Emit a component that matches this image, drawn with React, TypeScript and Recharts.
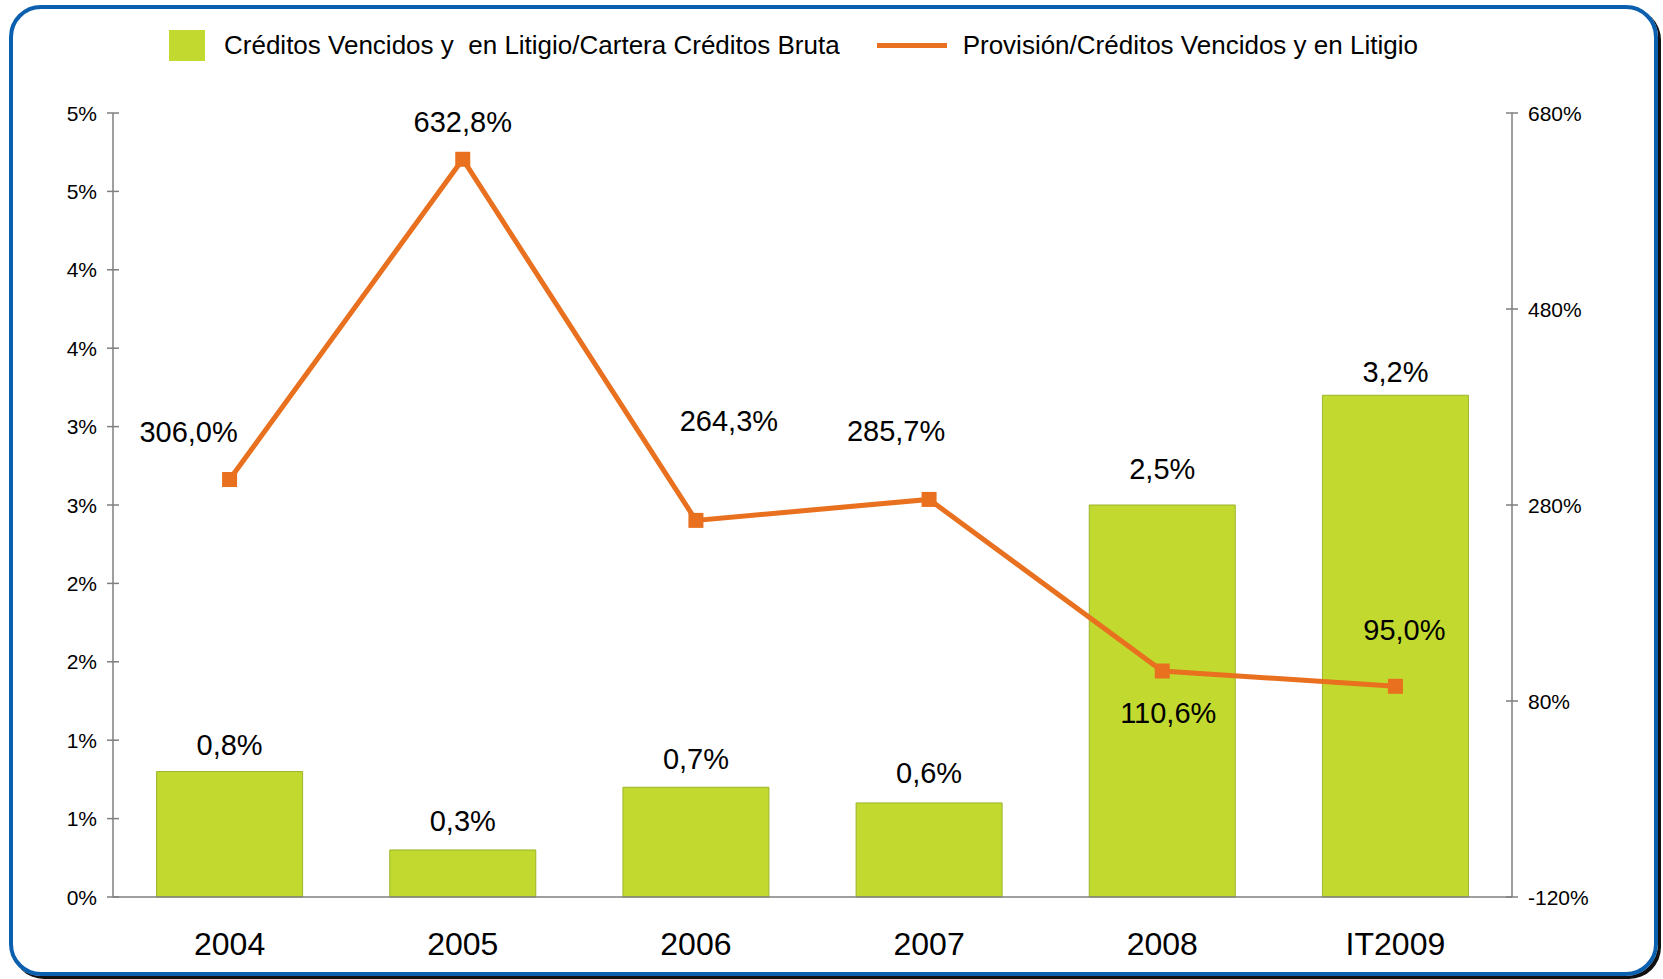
import React from 'react';
import { ComposedChart, Bar, Line, XAxis, YAxis, LabelList } from 'recharts';

// chart values
const categories = ['2004', '2005', '2006', '2007', '2008', 'IT2009'];
const vencidosCartera = [0.8, 0.3, 0.7, 0.6, 2.5, 3.2];
const provisionVencidos = [306.0, 632.8, 264.3, 285.7, 110.6, 95.0];
const leftTicks = [0, 0.5, 1, 1.5, 2, 2.5, 3, 3.5, 4, 4.5, 5];
const rightTicks = [-120, 80, 280, 480, 680];

const barName = 'Créditos Vencidos y  en Litigio/Cartera Créditos Bruta';
const lineName = 'Provisión/Créditos Vencidos y en Litigio';

const GREEN = '#C2D92F';
const GREEN_EDGE = '#9BB52A';
const ORANGE = '#E8701F';
const AXIS = '#7f7f7f';
const FONT = '"Liberation Sans", Arial, sans-serif';

// Excel-style hand placed label offsets for the line series (dx, dy from the point)
const lineLabelShift = [
  [-41, -48],
  [0, -37],
  [33, -99],
  [-33, -68],
  [6, 42],
  [9, -56],
];
// distance from bar top to the centre of its label
const barLabelGap = [27, 29, 28, 30, 36, 23];

const data = categories.map((c, i) => ({
  name: c,
  cartera: vencidosCartera[i],
  provision: provisionVencidos[i],
}));

const fmt = (v: number) => v.toFixed(1).replace('.', ',') + '%';

const LeftTick = (props: any) => {
  const { x, y, payload } = props;
  return (
    <g>
      <line x1={x + 16} x2={x + 22} y1={y} y2={y} stroke={AXIS} strokeWidth={1.5} />
      <text x={x} y={y} textAnchor="end" dominantBaseline="central" fontSize={21} fill="#000" fontFamily={FONT}>
        {Math.round(payload.value) + '%'}
      </text>
    </g>
  );
};

const RightTick = (props: any) => {
  const { x, y, payload } = props;
  return (
    <g>
      <line x1={x - 22} x2={x - 16} y1={y} y2={y} stroke={AXIS} strokeWidth={1.5} />
      <text x={x} y={y} textAnchor="start" dominantBaseline="central" fontSize={21} fill="#000" fontFamily={FONT}>
        {payload.value + '%'}
      </text>
    </g>
  );
};

const SquareDot = (props: any) => {
  const { cx, cy, index } = props;
  if (cx == null || cy == null) return null;
  return <rect key={`dot-${index}`} x={cx - 7.5} y={cy - 7.5} width={15} height={15} fill={ORANGE} />;
};

const LineLabel = (props: any) => {
  const { x, y, value, index } = props;
  const [dx, dy] = lineLabelShift[index] || [0, -30];
  return (
    <text x={x + dx} y={y + dy} textAnchor="middle" dominantBaseline="central" fontSize={29} fill="#000" fontFamily={FONT}>
      {fmt(value)}
    </text>
  );
};

const BarLabel = (props: any) => {
  const { x, y, width, value, index } = props;
  const gap = barLabelGap[index] ?? 26;
  return (
    <text x={x + width / 2} y={y - gap} textAnchor="middle" dominantBaseline="central" fontSize={29} fill="#000" fontFamily={FONT}>
      {fmt(value)}
    </text>
  );
};

function LegendOverlay() {
  return (
    <div
      style={{
        position: 'absolute',
        top: 30,
        left: 169,
        display: 'flex',
        alignItems: 'center',
        fontFamily: FONT,
        fontSize: 26,
        color: '#000',
        whiteSpace: 'pre',
      }}
    >
      <span style={{ width: 36, height: 31, background: GREEN, display: 'inline-block' }} />
      <span style={{ marginLeft: 19 }}>{barName}</span>
      <span style={{ width: 70, height: 5, background: ORANGE, display: 'inline-block', marginLeft: 37 }} />
      <span style={{ marginLeft: 16 }}>{lineName}</span>
    </div>
  );
}

export default function App() {
  return (
    <div style={{ position: 'absolute', left: 0, top: 0, width: 1663, height: 979, background: '#fff' }}>
      <div
        style={{
          position: 'absolute',
          left: 9,
          top: 5,
          width: 1641,
          height: 963,
          border: '4px solid #0B5FAF',
          borderRadius: 32,
          boxShadow: '3px 3px 0 #111',
        }}
      />
      <LegendOverlay />
      <div style={{ position: 'absolute', left: 0, top: 0 }}>
        <ComposedChart
          width={1663}
          height={979}
          data={data}
          margin={{ top: 113, right: 51, bottom: 32, left: 33 }}
          barCategoryGap="18.7%"
          style={{ fontFamily: FONT }}
        >
          <XAxis
            dataKey="name"
            axisLine={{ stroke: AXIS, strokeWidth: 1.5 }}
            tickLine={false}
            tickSize={0}
            tickMargin={35}
            height={50}
            tick={{ fontSize: 32, fill: '#000' }}
            interval={0}
          />
          <YAxis
            yAxisId="left"
            orientation="left"
            width={80}
            domain={[0, 5]}
            ticks={leftTicks}
            interval={0}
            axisLine={{ stroke: AXIS, strokeWidth: 1.5 }}
            tickLine={{ stroke: AXIS, strokeWidth: 1.5 }}
            tickSize={6}
            tickMargin={10}
            tick={<LeftTick />}
          />
          <YAxis
            yAxisId="right"
            orientation="right"
            width={100}
            domain={[-120, 680]}
            ticks={rightTicks}
            interval={0}
            axisLine={{ stroke: AXIS, strokeWidth: 1.5 }}
            tickLine={{ stroke: AXIS, strokeWidth: 1.5 }}
            tickSize={6}
            tickMargin={10}
            tick={<RightTick />}
          />
          <Bar
            yAxisId="left"
            dataKey="cartera"
            name={barName}
            fill={GREEN}
            stroke={GREEN_EDGE}
            strokeWidth={1}
            isAnimationActive={false}
          >
            <LabelList dataKey="cartera" content={<BarLabel />} />
          </Bar>
          <Line
            yAxisId="right"
            dataKey="provision"
            name={lineName}
            stroke={ORANGE}
            strokeWidth={5}
            dot={<SquareDot />}
            activeDot={false}
            isAnimationActive={false}
          >
            <LabelList dataKey="provision" content={<LineLabel />} />
          </Line>
        </ComposedChart>
      </div>
    </div>
  );
}
